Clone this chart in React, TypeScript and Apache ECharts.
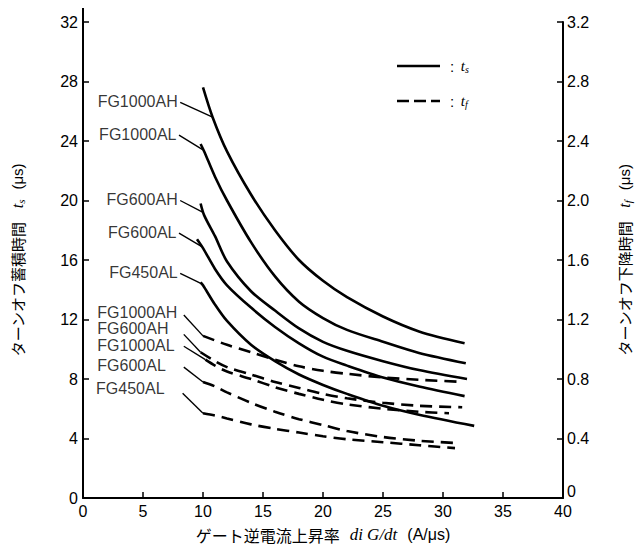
import React, { useEffect, useRef } from "react";
import * as echarts from "echarts";

// ---------- data (x: diG/dt in A/μs) ----------
// ts curves (left axis, μs)
const ts1000AH_x = [10, 10.8, 12, 14, 16, 18, 20, 22, 25, 28, 31.8];
const ts1000AH_y = [27.6, 25.6, 23.3, 20.4, 18.0, 16.0, 14.6, 13.5, 12.2, 11.2, 10.4];
const ts1000AL_x = [9.8, 10.1, 11, 12, 14, 16, 18, 20, 22, 25, 28, 31.9];
const ts1000AL_y = [23.8, 23.3, 21.6, 20.0, 17.2, 14.9, 13.2, 12.1, 11.3, 10.5, 9.75, 9.06];
const ts600AH_x = [9.8, 10.1, 11, 12, 14, 16, 18, 20, 22, 25, 28, 32];
const ts600AH_y = [19.8, 19.0, 17.6, 15.9, 13.9, 12.6, 11.4, 10.5, 9.9, 9.2, 8.6, 8.0];
const ts600AL_x = [9.5, 10, 11, 12, 14, 16, 18, 20, 22, 25, 28, 31.8];
const ts600AL_y = [17.4, 16.8, 15.4, 14.3, 12.8, 11.5, 10.4, 9.5, 8.9, 8.1, 7.5, 6.85];
const ts450AL_x = [9.8, 10, 11, 12, 14, 16, 18, 20, 22, 25, 28, 32.6];
const ts450AL_y = [14.5, 14.3, 13.0, 11.9, 10.3, 9.2, 8.3, 7.6, 7.0, 6.2, 5.6, 4.85];

// tf curves (right axis, μs)
const tf1000AH_x = [10, 12, 14, 16, 18, 20, 22, 25, 28, 31.7];
const tf1000AH_y = [1.09, 1.03, 0.98, 0.93, 0.885, 0.855, 0.835, 0.81, 0.795, 0.78];
const tf600AH_x = [9.8, 11, 12, 14, 16, 18, 20, 22, 25, 28, 31.6];
const tf600AH_y = [0.98, 0.92, 0.88, 0.83, 0.78, 0.74, 0.7, 0.67, 0.64, 0.62, 0.61];
const tf1000AL_x = [10.2, 11, 12, 14, 16, 18, 20, 22, 25, 28, 30.5];
const tf1000AL_y = [0.93, 0.89, 0.85, 0.8, 0.745, 0.7, 0.66, 0.63, 0.6, 0.58, 0.57];
const tf600AL_x = [10, 11, 12, 14, 16, 18, 20, 22, 25, 28, 31];
const tf600AL_y = [0.78, 0.75, 0.71, 0.64, 0.58, 0.53, 0.49, 0.45, 0.41, 0.385, 0.37];
const tf450AL_x = [10, 11, 12, 14, 16, 18, 20, 22, 25, 28, 31];
const tf450AL_y = [0.57, 0.555, 0.535, 0.495, 0.465, 0.44, 0.415, 0.395, 0.375, 0.355, 0.335];

// label leader lines: [label, start, end]
const tsLeaders: [string, number[], number[]][] = [
  ["FG1000AH", [8.1, 26.6], [10.8, 25.6]],
  ["FG1000AL", [8.0, 24.4], [10.0, 23.4]],
  ["FG600AH", [8.1, 20.0], [10.0, 19.2]],
  ["FG600AL", [8.0, 17.8], [9.9, 16.9]],
  ["FG450AL", [8.1, 15.1], [9.9, 14.4]],
];
const tfLeaders: [string, number[], number[], number][] = [
  ["FG1000AH", [8.4, 1.23], [10.0, 1.09], -3],
  ["FG600AH", [8.4, 1.1], [9.8, 0.98], -6],
  ["FG1000AL", [8.4, 1.02], [10.2, 0.93], -1],
  ["FG600AL", [8.4, 0.88], [10.0, 0.78], -2],
  ["FG450AL", [8.3, 0.705], [10.0, 0.57], -5],
];

const xMin = 0, xMax = 40, xInterval = 5;
const tsMin = 0, tsMax = 32, tsInterval = 4;
const tfMin = 0, tfMax = 3.2, tfInterval = 0.4;

const zip = (xs: number[], ys: number[]) => xs.map((x, i) => [x, ys[i]]);

const SANS = "'Liberation Sans', Arial, sans-serif";
const JP = "'Noto Sans CJK JP', sans-serif";
const SERIF = "'Liberation Serif', 'DejaVu Serif', serif";

export default function App() {
  const ref = useRef<HTMLDivElement>(null);
  useEffect(() => {
    if (!ref.current) return;
    const chart = echarts.init(ref.current, undefined, { renderer: "svg" });

    const tsSets = [
      zip(ts1000AH_x, ts1000AH_y),
      zip(ts1000AL_x, ts1000AL_y),
      zip(ts600AH_x, ts600AH_y),
      zip(ts600AL_x, ts600AL_y),
      zip(ts450AL_x, ts450AL_y),
    ];
    const tfSets = [
      zip(tf1000AH_x, tf1000AH_y),
      zip(tf600AH_x, tf600AH_y),
      zip(tf1000AL_x, tf1000AL_y),
      zip(tf600AL_x, tf600AL_y),
      zip(tf450AL_x, tf450AL_y),
    ];

    const series: any[] = [];
    tsSets.forEach((d, i) =>
      series.push({
        type: "line",
        name: "ts" + i,
        yAxisIndex: 0,
        data: d,
        smooth: 0.3,
        showSymbol: false,
        lineStyle: { color: "#000", width: 2.6 },
        z: 3,
      })
    );
    tfSets.forEach((d, i) =>
      series.push({
        type: "line",
        name: "tf" + i,
        yAxisIndex: 1,
        data: d,
        smooth: 0.3,
        showSymbol: false,
        lineStyle: { color: "#000", width: 2.6, type: [12, 7] },
        z: 3,
      })
    );
    tsLeaders.forEach(([, a, b]) =>
      series.push({
        type: "line",
        yAxisIndex: 0,
        data: [a, b],
        showSymbol: false,
        lineStyle: { color: "#000", width: 1.4 },
      })
    );
    tfLeaders.forEach(([, a, b]) =>
      series.push({
        type: "line",
        yAxisIndex: 1,
        data: [a, b],
        showSymbol: false,
        lineStyle: { color: "#000", width: 1.4 },
      })
    );
    series.push({
      type: "scatter",
      yAxisIndex: 0,
      symbolSize: 1,
      itemStyle: { color: "rgba(0,0,0,0)" },
      data: tsLeaders.map(([n, a]) => ({ name: n, value: a })),
      label: {
        show: true,
        position: "left",
        distance: 2,
        formatter: "{b}",
        color: "#000",
        fontSize: 16,
        fontFamily: SANS,
        offset: [0, -1],
      },
    });
    series.push({
      type: "scatter",
      yAxisIndex: 1,
      symbolSize: 1,
      itemStyle: { color: "rgba(0,0,0,0)" },
      data: tfLeaders.map(([n, a, , dy]) => ({
        name: n,
        value: a,
        label: { offset: [-86, dy] },
      })),
      label: {
        show: true,
        position: "left",
        distance: 0,
        align: "left",
        formatter: "{b}",
        color: "#000",
        fontSize: 16,
        fontFamily: SANS,
      },
    });

    const axisCommon = {
      axisLine: { show: true, onZero: false, lineStyle: { color: "#000", width: 2 } },
      axisTick: { show: true, inside: true, length: 6, lineStyle: { color: "#000", width: 1.5 } },
      axisLabel: { color: "#000", fontSize: 16, fontFamily: SANS },
      splitLine: { show: false },
    };

    const nameRich = {
      j: { fontFamily: JP, fontSize: 15, color: "#000" },
      i: { fontFamily: SERIF, fontStyle: "italic", fontSize: 16, color: "#000" },
      s: { fontFamily: SERIF, fontStyle: "italic", fontSize: 11, color: "#000", padding: [6, 0, 0, 0] },
      n: { fontFamily: SANS, fontSize: 15, color: "#000" },
    };

    const option: any = {
      animation: false,
      backgroundColor: "#fff",
      grid: { left: 83, right: 75, top: 22, bottom: 54 },
      xAxis: {
        type: "value",
        min: xMin,
        max: xMax,
        interval: xInterval,
        ...axisCommon,
        axisLabel: { ...axisCommon.axisLabel, margin: 5 },
        name: "{j|ゲート逆電流上昇率}   {i|di G/dt}   {n|(A/μs)}",
        nameLocation: "middle",
        nameGap: 28,
        nameTextStyle: {
          color: "#000",
          rich: {
            j: { fontFamily: JP, fontSize: 16, color: "#000" },
            i: { fontFamily: SERIF, fontStyle: "italic", fontSize: 17, color: "#000" },
            n: { fontFamily: SANS, fontSize: 16, color: "#000" },
          },
        },
      },
      yAxis: [
        {
          type: "value",
          position: "left",
          min: tsMin,
          max: tsMax,
          interval: tsInterval,
          ...axisCommon,
          axisLabel: { ...axisCommon.axisLabel, margin: 5 },
          name: "{j|ターンオフ蓄積時間}    {i|t}{s|s}   {n|(μs)}",
          nameLocation: "middle",
          nameRotate: 90,
          nameGap: 57,
          nameTextStyle: { color: "#000", rich: nameRich },
        },
        {
          type: "value",
          position: "right",
          min: tfMin,
          max: tfMax,
          interval: tfInterval,
          ...axisCommon,
          axisLabel: {
            ...axisCommon.axisLabel,
            margin: 4,
            formatter: (v: number) => (v === 0 ? "{z|0}" : v.toFixed(1)),
            rich: {
              z: { fontFamily: SANS, fontSize: 16, color: "#000", padding: [0, 0, 14, 0] },
            },
          },
          name: "{j|ターンオフ下降時間}    {i|t}{s|f}   {n|(μs)}",
          nameLocation: "middle",
          nameRotate: 90,
          nameGap: 53,
          nameTextStyle: { color: "#000", rich: nameRich },
        },
      ],
      graphic: [
        { type: "line", shape: { x1: 83, y1: 8, x2: 83, y2: 22 }, style: { stroke: "#000", lineWidth: 2 } },
        { type: "line", shape: { x1: 397, y1: 66, x2: 440, y2: 66 }, style: { stroke: "#000", lineWidth: 2.6 } },
        {
          type: "text",
          x: 450,
          y: 66,
          style: {
            text: "{c|:}  {i|t}{s|s}",
            verticalAlign: "middle",
            rich: {
              c: { fontFamily: SANS, fontSize: 15, fill: "#000" },
              i: { fontFamily: SERIF, fontStyle: "italic", fontSize: 15, fill: "#000" },
              s: { fontFamily: SERIF, fontStyle: "italic", fontSize: 10, fill: "#000", padding: [6, 0, 0, 0] },
            },
          },
        },
        {
          type: "line",
          shape: { x1: 397, y1: 101, x2: 440, y2: 101 },
          style: { stroke: "#000", lineWidth: 2.6, lineDash: [12, 5] },
        },
        {
          type: "text",
          x: 450,
          y: 101,
          style: {
            text: "{c|:}  {i|t}{s|f}",
            verticalAlign: "middle",
            rich: {
              c: { fontFamily: SANS, fontSize: 15, fill: "#000" },
              i: { fontFamily: SERIF, fontStyle: "italic", fontSize: 15, fill: "#000" },
              s: { fontFamily: SERIF, fontStyle: "italic", fontSize: 10, fill: "#000", padding: [6, 0, 0, 0] },
            },
          },
        },
      ],
      series,
    };
    chart.setOption(option);
    return () => chart.dispose();
  }, []);
  return (
    <div
      ref={ref}
      style={{ position: "fixed", left: 0, top: 0, width: 641, height: 552, background: "#fff" }}
    />
  );
}
